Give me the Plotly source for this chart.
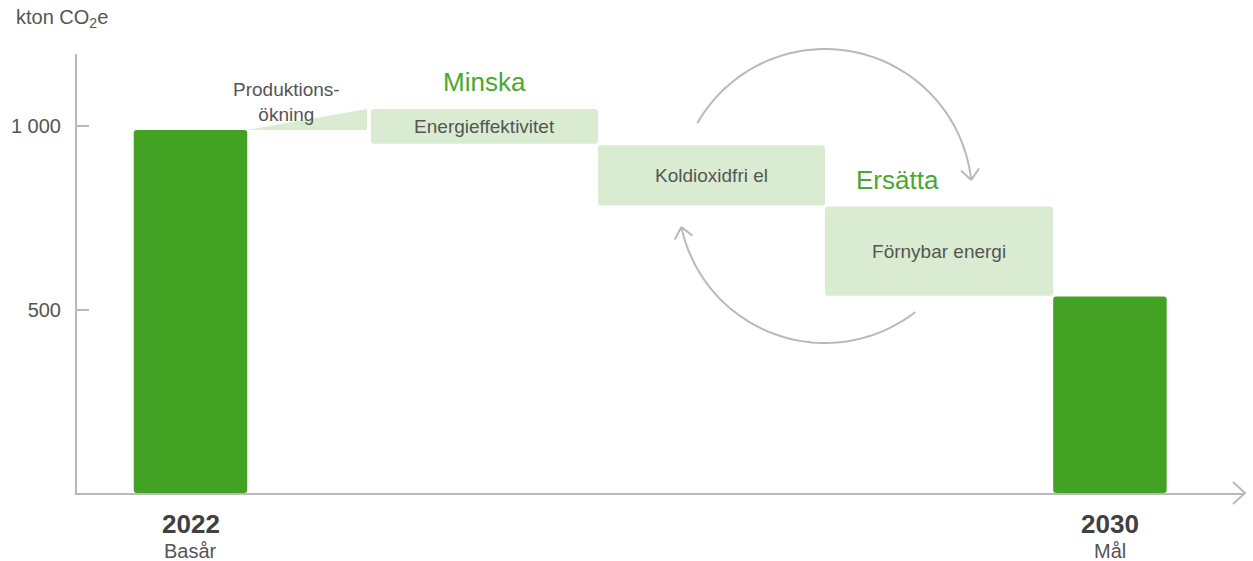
import numpy as np
import plotly.graph_objects as go

# --- data (kton CO2e) ---
steps = ["2022", "Produktionsökning", "Energieffektivitet", "Koldioxidfri el", "Förnybar energi", "2030"]
tops = [990, 1047, 1047, 948, 781, 536]
bottoms = [0, 990, 952, 784, 538, 0]
year_labels = ["2022", "2030"]
year_sub = ["Basår", "Mål"]
tick_vals = [500, 1000]
tick_text = ["500", "1 000"]

# --- layout of the steps along x (axis units) ---
x_left = [0.50, 1.50, 2.59, 4.59, 6.59, 8.60]
x_width = [1.00, 1.055, 2.00, 2.00, 2.01, 1.00]

W, H = 1253, 561
ML, MR, MT, MB = 77, 8, 54, 68
X_MAX = 10.29
Y_MAX = 1197
px_x = (W - ML - MR) / X_MAX
px_y = (H - MT - MB) / Y_MAX

DARK = "#43a124"
LIGHT = "#d9ecd2"
GREY = "#b9b9b9"
TXT = "#555555"
FONT = "Liberation Sans"

centers = [l + w / 2 for l, w in zip(x_left, x_width)]

fig = go.Figure()

# end bars (2022, 2030)
ends = [0, 5]
fig.add_trace(go.Bar(
    x=[centers[i] for i in ends],
    y=[tops[i] - bottoms[i] for i in ends],
    base=[bottoms[i] for i in ends],
    width=[x_width[i] for i in ends],
    marker=dict(color=DARK, line=dict(width=0)),
    hoverinfo="skip", showlegend=False,
))

# floating step boxes
mid = [2, 3, 4]
fig.add_trace(go.Bar(
    x=[centers[i] for i in mid],
    y=[tops[i] - bottoms[i] for i in mid],
    base=[bottoms[i] for i in mid],
    width=[x_width[i] for i in mid],
    marker=dict(color=LIGHT, line=dict(width=0)),
    text=[steps[i] for i in mid],
    textposition="inside", insidetextanchor="middle",
    textangle=0, constraintext="none",
    textfont=dict(family=FONT, size=19, color=TXT),
    hoverinfo="skip", showlegend=False,
))

# production increase wedge
i = 1
fig.add_trace(go.Scatter(
    x=[x_left[i], x_left[i] + x_width[i], x_left[i] + x_width[i], x_left[i]],
    y=[bottoms[i], tops[i], bottoms[i], bottoms[i]],
    fill="toself", fillcolor=LIGHT, mode="lines", line=dict(width=0),
    hoverinfo="skip", showlegend=False,
))


# circular arrows between "Koldioxidfri el" and "Förnybar energi"
# drawn in axis-domain fractions so they are not clipped at the plot top
def arc(cx, cy, r, a0, a1, n=60):
    a = np.radians(np.linspace(a0, a1, n))
    xs = (cx + r * np.cos(a) / px_x) / X_MAX
    ys = (cy + r * np.sin(a) / px_y) / Y_MAX
    fx, fy = 1 / (px_x * X_MAX), 1 / (px_y * Y_MAX)
    path = "M " + " L ".join(f"{x:.5f},{y:.5f}" for x, y in zip(xs, ys))
    # open arrow head at the end, pointing along clockwise tangent
    t = np.radians(a1)
    d = np.array([np.sin(t), -np.cos(t)])
    tip = np.array([xs[-1], ys[-1]])
    for s in (40, -40):
        rs = np.radians(s)
        back = -np.array([d[0] * np.cos(rs) - d[1] * np.sin(rs),
                          d[0] * np.sin(rs) + d[1] * np.cos(rs)]) * 14
        p = tip + np.array([back[0] * fx, back[1] * fy])
        path += f" M {p[0]:.5f},{p[1]:.5f} L {tip[0]:.5f},{tip[1]:.5f}"
    return path


cx = x_left[4]
cy = (H - MB - 196) / px_y
for a0, a1 in [(150.3, 6.2), (-52.1, -167.8)]:
    fig.add_shape(type="path", path=arc(cx, cy, 147, a0, a1),
                  xref="x domain", yref="y domain", line=dict(color=GREY, width=2))

# x-axis arrow head
fig.add_shape(type="path", xref="x domain", yref="y domain",
              xsizemode="pixel", ysizemode="pixel",
              xanchor=1, yanchor=0,
              path="M -12,11 L 0,0 L -12,-11",
              line=dict(color=GREY, width=2))

ann = []
# group headers
ann.append(dict(x=centers[2], y=tops[2], text="Minska", yanchor="bottom", yshift=10,
                font=dict(family=FONT, size=26, color="#4aa82f")))
ann.append(dict(x=centers[4], y=tops[4], text="Ersätta", yanchor="bottom", yshift=10,
                xshift=-42, font=dict(family=FONT, size=26, color="#4aa82f")))
ann.append(dict(x=centers[1], y=tops[1], text="Produktions-<br>ökning", yanchor="middle",
                yshift=7, xshift=-21, font=dict(family=FONT, size=19, color=TXT)))
for k, j in enumerate(ends):
    ann.append(dict(x=centers[j], y=0, text=f"<b>{year_labels[k]}</b>", yanchor="top",
                    yshift=-14, font=dict(family=FONT, size=26, color="#404040")))
    ann.append(dict(x=centers[j], y=0, text=year_sub[k], yanchor="top",
                    yshift=-45, font=dict(family=FONT, size=20, color=TXT)))
ann.append(dict(xref="paper", yref="paper", x=0, y=1, xanchor="left", yanchor="middle",
                xshift=-63, yshift=36, text="kton CO<sub>2</sub>e",
                font=dict(family=FONT, size=20, color=TXT)))
for a in ann:
    a.setdefault("xref", "x")
    a.setdefault("yref", "y")
    a["showarrow"] = False

fig.update_layout(
    width=W, height=H,
    margin=dict(l=ML, r=MR, t=MT, b=MB),
    paper_bgcolor="white", plot_bgcolor="white",
    barmode="overlay", barcornerradius=3,
    annotations=ann,
    xaxis=dict(range=[0, X_MAX], showgrid=False, zeroline=False, showticklabels=False,
               showline=True, linecolor=GREY, linewidth=2, ticks=""),
    yaxis=dict(range=[0, Y_MAX], showgrid=False, zeroline=False,
               showline=True, linecolor=GREY, linewidth=2,
               ticks="inside", ticklen=12, tickwidth=2, tickcolor=GREY,
               tickvals=tick_vals, ticktext=tick_text, ticklabelstandoff=10,
               tickfont=dict(family=FONT, size=20, color=TXT)),
    font=dict(family=FONT),
)

fig.write_html("out.html", config={"displayModeBar": False},
               post_script="document.body.style.margin='0';")
